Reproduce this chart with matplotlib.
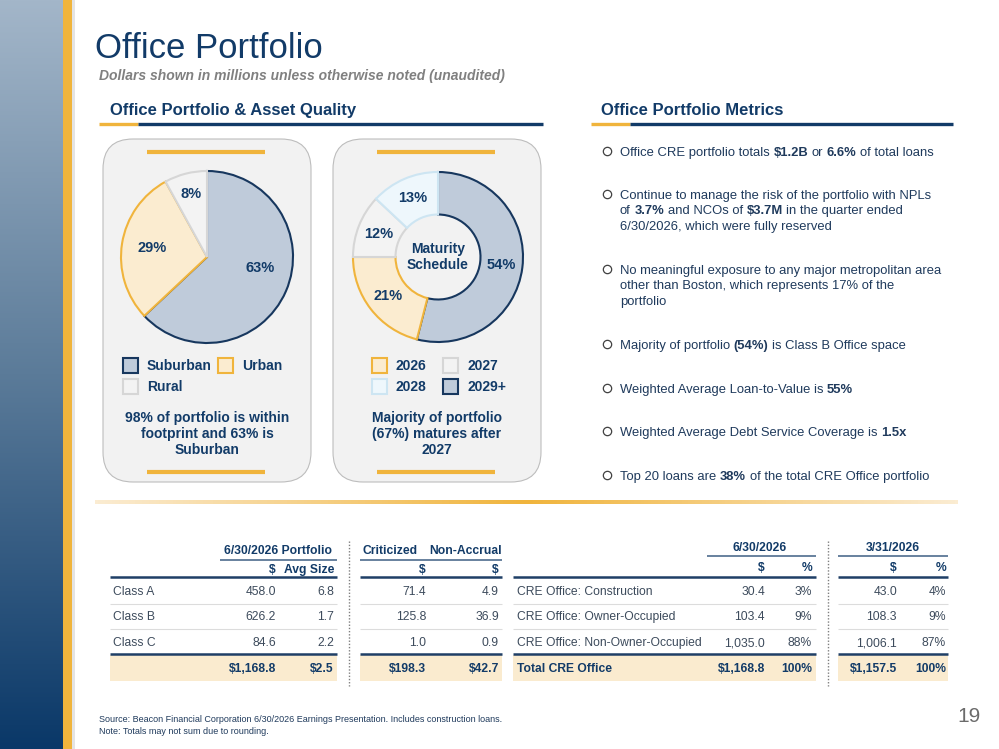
import numpy as np
import matplotlib
matplotlib.use('Agg')
import matplotlib.pyplot as plt
from matplotlib.patches import Rectangle, FancyBboxPatch
from matplotlib.colors import LinearSegmentedColormap

plt.rcParams['font.family'] = ['Liberation Sans', 'DejaVu Sans']
plt.rcParams['text.parse_math'] = False

# ---- data ----
loc_labels = ['Suburban', 'Urban', 'Rural']
loc_values = [63, 29, 8]
mat_labels = ['2029+', '2026', '2027', '2028']
mat_values = [54, 21, 12, 13]
mat_legend = ['2026', '2027', '2028', '2029+']

classes = ['Class A', 'Class B', 'Class C']
port_amt = [458.0, 626.2, 84.6]
port_avg = [6.8, 1.7, 2.2]
criticized = [71.4, 125.8, 1.0]
nonaccrual = [4.9, 36.9, 0.9]
class_totals = [1168.8, 2.5, 198.3, 42.7]

cre_types = ['CRE Office: Construction', 'CRE Office: Owner-Occupied',
             'CRE Office: Non-Owner-Occupied']
q2_amt = [30.4, 103.4, 1035.0]
q2_pct = [3, 9, 88]
q1_amt = [43.0, 108.3, 1006.1]
q1_pct = [4, 9, 87]
cre_totals = [1168.8, 100, 1157.5, 100]

# each run: (text, bold, space before)
bullets = [
    [[('Office CRE portfolio totals', False, False), ('$1.2B', True, True), ('or', False, True),
      ('6.6%', True, True), ('of total loans', False, True)]],
    [[('Continue to manage the risk of the portfolio with NPLs', False, False)],
     [('of', False, False), ('3.7%', True, True), ('and NCOs of', False, True), ('$3.7M', True, True),
      ('in the quarter ended', False, True)],
     [('6/30/2026, which were fully reserved', False, False)]],
    [[('No meaningful exposure to any major metropolitan area', False, False)],
     [('other than Boston, which represents 17% of the', False, False)],
     [('portfolio', False, False)]],
    [[('Majority of portfolio', False, False), ('(54%)', True, True),
      ('is Class B Office space', False, True)]],
    [[('Weighted Average Loan-to-Value is', False, False), ('55%', True, True)]],
    [[('Weighted Average Debt Service Coverage is', False, False), ('1.5x', True, True)]],
    [[('Top 20 loans are', False, False), ('38%', True, True),
      ('of the total CRE Office portfolio', False, True)]],
]
bullet_y = [151, 194, 269, 344, 388, 431, 475]

NAVY = '#123b68'
TXT = '#1f3a5c'
GRAY_TXT = '#3d4b5c'
GOLD = '#f0b43c'
BEIGE = '#faebcf'

W, H = 999, 749
fig = plt.figure(figsize=(W / 100, H / 100), dpi=100)
ax = fig.add_axes([0, 0, 1, 1])
ax.axis('off')
ax.set_xlim(0, W)
ax.set_ylim(H, 0)
r = fig.canvas.get_renderer()

# sidebar
side = LinearSegmentedColormap.from_list('side', ['#a3b6c9', '#5b7b99', '#0a3868'])
ax.imshow(np.linspace(0, 1, 256).reshape(-1, 1), cmap=side, extent=[0, 63, H, 0],
          aspect='auto', zorder=0)
ax.add_patch(Rectangle((63, 0), 9, H, color=GOLD, lw=0))
ax.add_patch(Rectangle((72, 0), 3, H, color='#e4e4e4', lw=0))

# titles
ax.text(95, 58, 'Office Portfolio', fontsize=25, color=NAVY, va='baseline')
ax.text(99, 80, 'Dollars shown in millions unless otherwise noted (unaudited)',
        fontsize=10, color='#808080', style='italic', weight='bold', va='baseline')
ax.text(110, 115, 'Office Portfolio & Asset Quality', fontsize=12, color=NAVY,
        weight='bold', va='baseline')
ax.text(601, 115, 'Office Portfolio Metrics', fontsize=12, color=NAVY,
        weight='bold', va='baseline')
for x0, x1, x2 in [(99, 138, 543), (591, 630, 953)]:
    ax.plot([x0, x1], [124, 124], color=GOLD, lw=2.4, solid_capstyle='butt')
    ax.plot([x1, x2], [124, 124], color=NAVY, lw=2.4, solid_capstyle='butt')

# panels
for px in [103, 333]:
    ax.add_patch(FancyBboxPatch((px, 139), 208, 343,
                                boxstyle='round,pad=0,rounding_size=30',
                                fc='#f2f2f2', ec='#bdbdbd', lw=0.8))
    for yb in [152, 472]:
        ax.plot([px + 44, px + 162], [yb, yb], color=GOLD, lw=3, solid_capstyle='butt')


def sub_axes(cx, cy, rad, half=100):
    a = fig.add_axes([(cx - half) / W, 1 - (cy + half) / H, 2 * half / W, 2 * half / H])
    return a, half / rad


# location pie
loc_fill = ['#bfcbda', '#fbecd0', '#f3f3f3']
loc_edge = ['#17375e', GOLD, '#d6d6d6']
a1, lim = sub_axes(207, 257, 86)
wedges, _ = a1.pie(loc_values, colors=loc_fill, startangle=90, counterclock=False,
                   wedgeprops=dict(lw=1.5))
for w, ec, v, d, off in zip(wedges, loc_edge, loc_values, [0.63, 0.65, 0.76], [12, 0, 0]):
    w.set_edgecolor(ec)
    ang = np.deg2rad((w.theta1 + w.theta2) / 2 + off)
    a1.text(d * np.cos(ang), d * np.sin(ang), f'{v}%', ha='center', va='center',
            fontsize=10.5, weight='bold', color=NAVY)
a1.set_xlim(-lim, lim); a1.set_ylim(-lim, lim); a1.axis('off')

# maturity donut
mat_fill = ['#bfcbda', '#fbecd0', '#f3f3f3', '#eef7fc']
mat_edge = ['#17375e', GOLD, '#d6d6d6', '#cde5f2']
a2, lim = sub_axes(438, 257, 85)
wedges, _ = a2.pie(mat_values, colors=mat_fill, startangle=90, counterclock=False,
                   wedgeprops=dict(lw=1.5, width=0.5))
for w, ec, v in zip(wedges, mat_edge, mat_values):
    w.set_edgecolor(ec)
    ang = np.deg2rad((w.theta1 + w.theta2) / 2)
    a2.text(0.75 * np.cos(ang), 0.75 * np.sin(ang), f'{v}%', ha='center', va='center',
            fontsize=10.5, weight='bold', color=NAVY)
a2.text(0, 0, 'Maturity\nSchedule', ha='center', va='center', fontsize=10,
        weight='bold', color=NAVY, linespacing=1.15)
a2.set_xlim(-lim, lim); a2.set_ylim(-lim, lim); a2.axis('off')

# legends
loc_pos = [(130, 365), (225, 365), (130, 386)]
for lab, (x, y), fc, ec in zip(loc_labels, loc_pos, loc_fill, loc_edge):
    ax.add_patch(Rectangle((x - 7.5, y - 7.5), 15, 15, fc=fc, ec=ec, lw=1.5))
    ax.text(x + 17, y + 5, lab, fontsize=10, weight='bold', color=NAVY, va='baseline')
mat_pos = [(379, 365), (450, 365), (379, 386), (450, 386)]
for lab, (x, y) in zip(mat_legend, mat_pos):
    i = mat_labels.index(lab)
    ax.add_patch(Rectangle((x - 7.5, y - 7.5), 15, 15, fc=mat_fill[i], ec=mat_edge[i], lw=1.5))
    ax.text(x + 17, y + 5, lab, fontsize=10, weight='bold', color=NAVY, va='baseline')

ax.text(207, 434, '98% of portfolio is within\nfootprint and 63% is\nSuburban', ha='center',
        va='center', fontsize=10, weight='bold', color=NAVY, linespacing=1.2)
ax.text(437, 434, 'Majority of portfolio\n(67%) matures after\n2027', ha='center',
        va='center', fontsize=10, weight='bold', color=NAVY, linespacing=1.2)

# bullets with mixed bold runs
BFS = 9.4
t1 = ax.text(0, 0, 'a a', fontsize=BFS)
t2 = ax.text(0, 0, 'aa', fontsize=BFS)
space_w = t1.get_window_extent(r).width - t2.get_window_extent(r).width
t1.remove(); t2.remove()

for lines, y0 in zip(bullets, bullet_y):
    ax.plot(607, y0, 'o', ms=6, mfc='none', mec='#404040', mew=0.9)
    for k, line in enumerate(lines):
        x = 620
        y = y0 + k * 15.7 + 4.7
        for s, b, sp in line:
            if sp:
                x += space_w
            t = ax.text(x, y, s, fontsize=BFS, weight='bold' if b else 'normal', color=TXT,
                        va='baseline')
            x = ax.transData.inverted().transform(t.get_window_extent(r))[1][0]

# gradient divider
gl = LinearSegmentedColormap.from_list('gl', ['#fbecd2', GOLD, '#fbecd2'])
ax.imshow(np.linspace(0, 1, 256).reshape(1, -1), cmap=gl, extent=[95, 958, 504, 500],
          aspect='auto', zorder=1)


# tables
def hline(segs, y, color, lw):
    for a, b in segs:
        ax.plot([a, b], [y, y], color=color, lw=lw, solid_capstyle='butt')


FS = 8.7
BO = 4.3  # baseline offset from row centre


def cell(x, y, s, ha='right', bold=False, color=GRAY_TXT):
    ax.text(x, y + BO, s, ha=ha, va='baseline', fontsize=FS,
            weight='bold' if bold else 'normal', color=color)


row_y = [591, 616, 642]
tot_y = 668

# left table
lsegs = [(110, 337), (360, 502)]
for a, b in lsegs:
    ax.add_patch(Rectangle((a, 655), b - a, 26, fc=BEIGE, lw=0))
cell(278, 550, '6/30/2026 Portfolio', 'center', True, NAVY)
cell(390, 550, 'Criticized', 'center', True, NAVY)
cell(466, 550, 'Non-Accrual', 'center', True, NAVY)
hline([(220, 337), (360, 502)], 560, '#3f5f84', 1.1)
for x, s in [(276, '$'), (334, 'Avg Size'), (426, '$'), (499, '$')]:
    cell(x, 569, s, 'right', True, NAVY)
hline(lsegs, 577, '#1f3f66', 1.8)
hline(lsegs, 603.5, '#dcdcdc', 0.8)
hline(lsegs, 629, '#dcdcdc', 0.8)
hline(lsegs, 654, '#1f3f66', 1.8)
for i, y in enumerate(row_y):
    cell(113, y, classes[i], 'left')
    for x, v in zip([276, 334, 426, 499], [port_amt[i], port_avg[i], criticized[i], nonaccrual[i]]):
        cell(x, y, f'{v:,.1f}')
for x, v in zip([276, 334, 426, 499], class_totals):
    cell(x, tot_y, f'${v:,.1f}', 'right', True, NAVY)
ax.plot([349, 349], [541, 686], color='#7f7f7f', lw=1, ls=(0, (1, 1.3)))

# right table
rsegs = [(513, 816), (838, 948)]
for a, b in rsegs:
    ax.add_patch(Rectangle((a, 655), b - a, 26, fc=BEIGE, lw=0))
cell(760, 547, '6/30/2026', 'center', True, NAVY)
cell(893, 547, '3/31/2026', 'center', True, NAVY)
hline([(707, 816), (838, 948)], 556, '#3f5f84', 1.1)
for x, s in [(765, '$'), (812, '%'), (897, '$'), (946, '%')]:
    cell(x, 567, s, 'right', True, NAVY)
hline(rsegs, 577, '#1f3f66', 1.8)
hline(rsegs, 603.5, '#dcdcdc', 0.8)
hline(rsegs, 629, '#dcdcdc', 0.8)
hline(rsegs, 654, '#1f3f66', 1.8)
for i, y in enumerate(row_y):
    cell(517, y, cre_types[i], 'left')
    vals = [f'{q2_amt[i]:,.1f}', f'{q2_pct[i]}%', f'{q1_amt[i]:,.1f}', f'{q1_pct[i]}%']
    for x, s in zip([765, 812, 897, 946], vals):
        cell(x, y, s)
cell(517, tot_y, 'Total CRE Office', 'left', True, NAVY)
tvals = [f'${cre_totals[0]:,.1f}', f'{cre_totals[1]}%', f'${cre_totals[2]:,.1f}', f'{cre_totals[3]}%']
for x, s in zip([765, 812, 897, 946], tvals):
    cell(x, tot_y, s, 'right', True, NAVY)
ax.plot([828, 828], [541, 686], color='#7f7f7f', lw=1, ls=(0, (1, 1.3)))

# footer
ax.text(99, 719, 'Source: Beacon Financial Corporation 6/30/2026 Earnings Presentation. '
        'Includes construction loans.', fontsize=6.5, color='#1f3a5c', va='center',
        family=['Liberation Sans Narrow', 'Liberation Sans'])
ax.text(99, 732, 'Note: Totals may not sum due to rounding.', fontsize=6.5, color='#1f3a5c',
        va='center', family=['Liberation Sans Narrow', 'Liberation Sans'])
ax.text(981, 716, '19', fontsize=15, color='#6b6b6b', ha='right', va='center')

ax.set_xlim(0, W)
ax.set_ylim(H, 0)
fig.savefig('out.png', dpi=100)
